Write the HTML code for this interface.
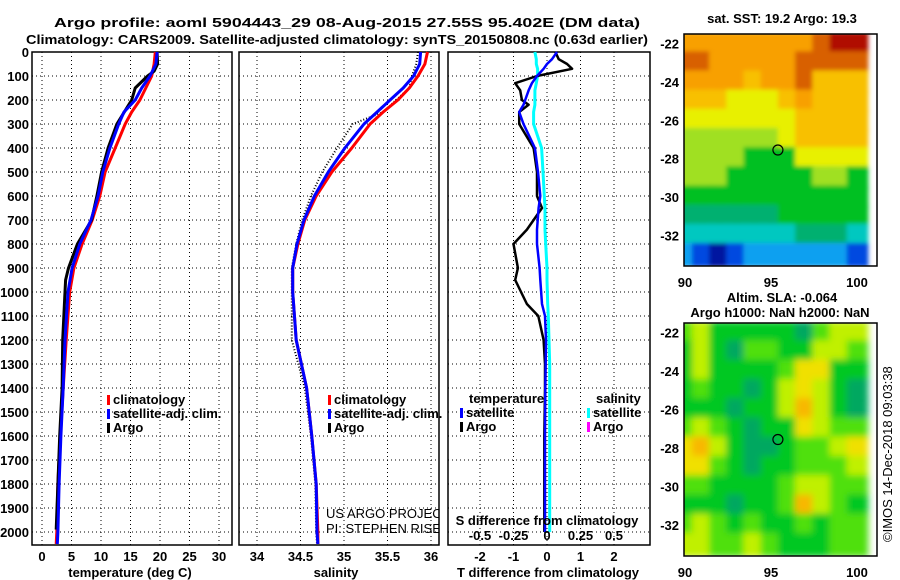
<!DOCTYPE html>
<html><head><meta charset="utf-8"><style>
html,body{margin:0;padding:0;background:#fff}
svg{display:block}
text{font-family:"Liberation Sans",sans-serif;font-weight:bold;font-size:13px;fill:#000}
.thin{font-weight:normal}
</style></head><body>
<svg id="chart" width="900" height="580" viewBox="0 0 900 580" xmlns="http://www.w3.org/2000/svg">
<text x="54" y="27" font-size="15" textLength="586" lengthAdjust="spacingAndGlyphs">Argo profile: aoml 5904443_29 08-Aug-2015 27.55S 95.402E (DM data)</text>
<text x="26" y="44" font-size="15" textLength="622" lengthAdjust="spacingAndGlyphs">Climatology: CARS2009. Satellite-adjusted climatology: synTS_20150808.nc (0.63d earlier)</text>
<g id="panels"></g>
<text class="thin" transform="translate(892,542) rotate(-90)">©IMOS 14-Dec-2018 09:03:38</text>
</svg>
<script>
// ---- data ----
const depthT = [0,50,100,150,200,250,300,400,500,600,700,800,900,1000,1200,1400,1600,1800,2000,2050];
const tempClim = [19.2,19.0,18.6,17.6,16.6,15.2,14.1,12.4,10.7,9.8,8.5,6.8,5.4,4.7,4.1,3.6,3.1,2.7,2.5,2.4];
const tempSat  = [19.5,19.3,18.3,16.9,15.8,13.9,13.0,11.5,10.3,9.5,8.3,6.4,5.1,4.4,3.9,3.6,3.2,2.9,2.7,2.6];
const depthArgo = [0,50,80,100,150,200,300,400,500,600,700,800,900,950,1000,1200,1400,1600,1800,1990];
const tempArgo = [19.5,19.6,19.0,17.9,15.8,15.2,12.7,11.2,10.1,9.3,8.4,6.0,4.5,4.0,3.9,3.5,3.4,3.0,2.7,2.4];
const salClim = [35.96,35.93,35.85,35.75,35.62,35.45,35.3,35.09,34.86,34.68,34.55,34.47,34.41,34.41,34.45,34.57,34.63,34.68,34.7,34.7];
const salSat  = [35.88,35.87,35.8,35.68,35.53,35.38,35.23,35.01,34.82,34.66,34.54,34.46,34.41,34.41,34.45,34.57,34.63,34.68,34.69,34.7];
const salArgo = [35.85,35.83,35.78,35.75,35.6,35.45,35.1,34.92,34.75,34.62,34.52,34.45,34.4,34.4,34.40,34.55,34.62,34.67,34.68,34.69];
const depthD = [0,30,50,70,100,130,160,200,220,250,300,400,500,600,650,740,800,900,950,1050,1100,1200,1300,1400,1600,1800,2000];
const dTArgo = [0.25,0.35,0.6,0.75,-0.3,-0.95,-0.8,-0.75,-0.55,-0.83,-0.83,-0.4,-0.3,-0.3,-0.15,-0.6,-1.0,-0.87,-0.95,-0.6,-0.26,-0.1,-0.06,-0.06,-0.08,-0.08,-0.08];
const dTSat  = [0.3,0.15,0,-0.1,-0.3,-0.45,-0.55,-0.65,-0.7,-0.83,-0.7,-0.36,-0.27,-0.2,-0.25,-0.3,-0.3,-0.22,-0.2,-0.15,-0.06,-0.03,-0.04,-0.05,-0.06,-0.06,-0.06];
const dSSat  = [-0.09,-0.08,-0.08,-0.07,-0.07,-0.08,-0.09,-0.09,-0.09,-0.1,-0.1,-0.04,-0.03,-0.02,-0.015,-0.015,-0.01,0,0,0.005,0.01,0.015,0.02,0.02,0.02,0.02,0.02];
const depthTicks = [0,100,200,300,400,500,600,700,800,900,1000,1100,1200,1300,1400,1500,1600,1700,1800,1900,2000];
const tTicks = [0,5,10,15,20,25,30];
const sTicks = [34,34.5,35,35.5,36];
const sTickLabels = ["34","34.5","35","35.5","36"];
const dTTicks = [-2,-1,0,1,2];
const dSTicks = [-0.5,-0.25,0,0.25,0.5];
const dSTickLabels = ["-0.5","-0.25","0","0.25","0.5"];
const mapLonTicks = [90,95,100];
const mapLatTicks = [-22,-24,-26,-28,-30,-32];
// SST levels per 1-degree cell (rows -22..-33, cols 90..100)
const sstGrid = [
[9,9,9,9,9,9,9,9,10,11,11],
[10,10,9,9,9,9,9,10,10,10,10],
[9,9,9,9,8,9,9,10,8,8,8],
[8,8,8,7,7,7,8,9,8,8,8],
[7,7,7,7,7,7,7,8,8,8,8],
[6,6,6,6,6,6,7,8,8,8,8],
[6,6,6,6,5,5,5,7,7,7,7],
[6,6,6,5,5,5,5,5,6,6,5],
[5,5,5,5,5,5,5,5,5,5,5],
[4,4,4,4,4,4,5,5,5,5,5],
[3,3,3,3,3,3,3,4,4,4,3],
[2,1,0,1,2,2,2,2,2,2,1]];
const slaGrid = [
[2,3,1,1,1,1,1,0,2,3,3],
[1,3,1,0,2,2,1,1,3,3,2],
[1,3,1,1,1,1,2,4,4,1,1],
[1,2,1,1,0,1,3,4,3,1,0],
[1,1,1,0,1,1,3,5,3,1,0],
[2,3,2,1,0,1,1,4,3,2,2],
[4,5,3,1,0,0,1,2,2,3,4],
[4,4,2,1,0,1,1,2,2,2,3],
[2,2,1,1,1,1,2,3,3,2,2],
[1,1,1,0,1,1,2,5,3,2,1],
[2,3,2,1,2,1,1,2,1,2,2],
[3,3,2,2,3,2,1,1,1,2,2]];
const argoLon = 95.402, argoLat = -27.55;

// ---- drawing ----
const NS="http://www.w3.org/2000/svg";
const root=document.getElementById('panels');
function el(tag,attrs,parent,txt){const e=document.createElementNS(NS,tag);for(const k in attrs)e.setAttribute(k,attrs[k]);if(txt!==undefined)e.textContent=txt;(parent||root).appendChild(e);return e;}
const yD = d => 52 + d*0.24;
const Y0=52, Y1=545;

function panel(name,x0,x1,xs,vTicks){
  const g=el('g',{});
  
  
  vTicks.forEach(v=>{const l=el('line',{x1:xs(v),x2:xs(v),y1:Y0,y2:Y1,stroke:'#000','stroke-width':1,'stroke-dasharray':'1,3'},g);});
  depthTicks.forEach(d=>{const l=el('line',{x1:x0,x2:x1,y1:yD(d),y2:yD(d),stroke:'#000','stroke-width':1,'stroke-dasharray':'1,3'},g);});
  const r=el('rect',{x:x0,y:Y0,width:x1-x0,height:Y1-Y0,fill:'none',stroke:'#000','stroke-width':1.5},g);
  
  
  return g;
}
function line(g,name,xs,vals,depths,color,w,dash){
  const pts=vals.map((v,i)=>xs(v).toFixed(1)+','+yD(depths[i]).toFixed(1)).join(' ');
  const p=el('polyline',{points:pts,fill:'none',stroke:color,'stroke-width':w,'stroke-linejoin':'round'},g);
  if(dash)p.setAttribute('stroke-dasharray',dash);
  
  
}
function legendEntry(g,x,y,color,label){
  const r=el('rect',{x:x,y:y-9,width:3,height:10,fill:color},g);
  
  
  const t=el('text',{x:x+6,y:y},g,label);
  
  
}

// depth axis labels
depthTicks.forEach(d=>{const t=el('text',{x:29,y:yD(d)+5,'text-anchor':'end'},root,String(d));});

// Panel 1 temperature
const xT=v=>42+v*5.9;
const g1=panel('temperature-panel',32,232,xT,tTicks);
line(g1,'temp-climatology-line',xT,tempClim,depthT,'#f00',3);
line(g1,'temp-argo-line',xT,tempArgo,depthArgo,'#000',3);
line(g1,'temp-satellite-line',xT,tempSat,depthT,'#00f',3);
tTicks.forEach(v=>{const t=el('text',{x:xT(v),y:561,'text-anchor':'middle'},root,String(v));});
el('text',{x:130,y:577,'text-anchor':'middle',},root,'temperature (deg C)');
legendEntry(g1,107,404,'#f00','climatology');
legendEntry(g1,107,418,'#00f','satellite-adj. clim.');
legendEntry(g1,107,432,'#000','Argo');

// Panel 2 salinity
const xS=v=>257+(v-34)*87;
const g2=panel('salinity-panel',239,439,xS,sTicks);
line(g2,'sal-argo-line',xS,salArgo,depthT,'#000',2,'1,2');
line(g2,'sal-climatology-line',xS,salClim,depthT,'#f00',3);
line(g2,'sal-satellite-line',xS,salSat,depthT,'#00f',3);
sTicks.forEach((v,i)=>{const t=el('text',{x:xS(v),y:561,'text-anchor':'middle'},root,sTickLabels[i]);});
el('text',{x:336,y:577,'text-anchor':'middle',},root,'salinity');
legendEntry(g2,328,404,'#f00','climatology');
legendEntry(g2,328,418,'#00f','satellite-adj. clim.');
legendEntry(g2,328,432,'#000','Argo');
const cp=el('clipPath',{id:'cp2'},root);el('rect',{x:239,y:50,width:200,height:495},cp);
const cr=el('g',{'clip-path':'url(#cp2)'},root);
el('text',{x:326,y:518,class:'thin','font-size':'13',},cr,'US ARGO PROJECT');
el('text',{x:326,y:533,class:'thin','font-size':'13',},cr,'PI: STEPHEN RISER');

// Panel 3 differences
const xDT=v=>547+v*33.5;
const xDS=v=>547+v*134;
const g3=panel('difference-panel',448,650,xDT,dTTicks);
line(g3,'dS-satellite-line',xDS,dSSat,depthD,'#0ff',3);
line(g3,'dT-argo-line',xDT,dTArgo,depthD,'#000',2.5);
line(g3,'dT-satellite-line',xDT,dTSat,depthD,'#00f',2.5);
dTTicks.forEach(v=>{const t=el('text',{x:xDT(v),y:561,'text-anchor':'middle'},root,String(v));});
el('text',{x:548,y:577,'text-anchor':'middle',},root,'T difference from climatology');
dSTicks.forEach((v,i)=>{const t=el('text',{x:xDS(v),y:540,'text-anchor':'middle'},g3,dSTickLabels[i]);});
el('text',{x:547,y:525,'text-anchor':'middle',},g3,'S difference from climatology');
el('text',{x:469,y:403,},g3,'temperature');
el('text',{x:596,y:403,},g3,'salinity');
legendEntry(g3,460,417,'#00f','satellite');
legendEntry(g3,460,431,'#000','Argo');
legendEntry(g3,587,417,'#0ff','satellite');
legendEntry(g3,587,431,'#f0f','Argo');

// Maps
const sstColors=['#0018a0','#0048e0','#10a0f0','#00c8c0','#00b070','#00c020','#a0e020','#e8f000','#f8c000','#f8a000','#d86000','#b01000'];
const slaColors=['#00a860','#00c820','#50e010','#c0f000','#f0e000','#f8b800'];
const defs=el('defs',{},root);
const f=el('filter',{id:'blur',x:'-5%',y:'-5%',width:'110%',height:'110%'},defs);
el('feGaussianBlur',{stdDeviation:'3.5'},f);
const f2=el('filter',{id:'blur2',x:'-5%',y:'-5%',width:'110%',height:'110%'},defs);
el('feGaussianBlur',{stdDeviation:'2'},f2);
function map(name,top,bottom,grid,colors,title1,title2,blurId){
  const x0=684,x1=877;
  const xL=v=>685+(v-90)*17.2;
  const ppd=(bottom-top)/12.1;
  const yL=v=>top+(-v-21.5)*ppd;
  const g=el('g',{});
  
  
  const id='clip'+name;
  const c=el('clipPath',{id:id},g);el('rect',{x:x0,y:top,width:x1-x0,height:bottom-top},c);
  const inner=el('g',{'clip-path':'url(#'+id+')'},g);
  const cells=el('g',{filter:'url(#'+blurId+')'},inner);
  grid.forEach((row,r)=>row.forEach((v,ci)=>{
    const lat=-22-r, lon=90+ci;
    const cell=el('rect',{x:xL(lon-0.6),y:yL(lat+0.6),width:17.2*1.2+1,height:ppd*1.2+1,fill:colors[v]},cells);
    
    
  }));
  const fr=el('rect',{x:x0,y:top,width:x1-x0,height:bottom-top,fill:'none',stroke:'#000','stroke-width':1.5},g);
  
  
  const mk=el('circle',{cx:xL(argoLon),cy:yL(argoLat),r:5,fill:'none',stroke:'#000','stroke-width':1.2},g);
  
  
  mapLonTicks.forEach(v=>{const t=el('text',{x:xL(v),y:bottom+21,'text-anchor':'middle'},g,String(v));});
  mapLatTicks.forEach(v=>{const t=el('text',{x:679,y:yL(v)+5,'text-anchor':'end'},g,String(v));});
  el('text',{x:782,y:title2?top-21:top-11,'text-anchor':'middle',},g,title1);
  if(title2)el('text',{x:780,y:top-6,'text-anchor':'middle',},g,title2);
}
map('sst-map',34,266,sstGrid,sstColors,'sat. SST: 19.2 Argo: 19.3',null,'blur2');
map('sla-map',323,556,slaGrid,slaColors,'Altim. SLA: -0.064','Argo h1000: NaN h2000: NaN','blur');
</script>
</body></html>
